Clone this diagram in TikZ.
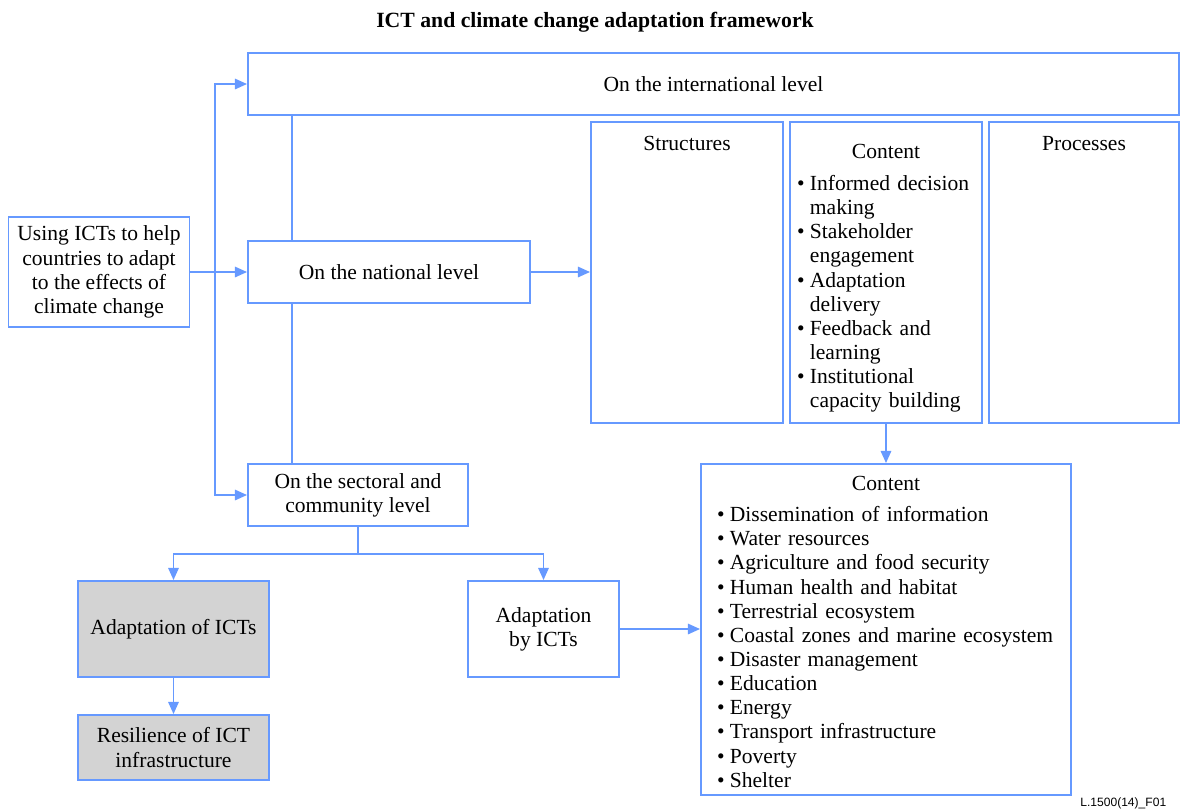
\documentclass[tikz,border=0pt]{standalone}
\usepackage{fontspec}
\setmainfont{Liberation Serif}
\setsansfont{Liberation Sans}
\usetikzlibrary{arrows.meta}
\definecolor{lineblue}{RGB}{102,153,255}
\definecolor{boxgrey}{RGB}{211,211,211}
\newcommand{\pxu}{0.58pt}
\newcommand{\bul}[1]{\par\hangindent=0.6em\hangafter=1\noindent\makebox[0.6em][l]{\textbullet}#1}
\begin{document}
\begin{tikzpicture}[
    x=0.58pt, y=-0.58pt,
    box/.style 2 args={draw=lineblue, line width=1.1pt, inner sep=0pt, align=center,
        font=\fontsize{12.5}{14}\selectfont, minimum width=#1*\pxu, minimum height=#2*\pxu},
    greybox/.style 2 args={box={#1}{#2}, fill=boxgrey},
    listbox/.style n args={3}{box={#1}{#2}, text width=#3*\pxu, align=left},
    head/.style={font=\fontsize{12.5}{14}\selectfont, inner sep=0pt},
    ln/.style={draw=lineblue, line width=1.1pt},
    arr/.style={ln, -{Triangle[length=7pt,width=6pt]}}
]
    \useasboundingbox (0,0) rectangle (1180,810);
    \node[font=\fontsize{12.6}{14}\selectfont\bfseries] (title) at (595,22) {ICT and climate change adaptation framework};

    \node[box={931}{62}] (intl) at (713.5,84) {On the international level};
    \node[box={282}{62}] (natl) at (389,272) {On the national level};
    \node[box={220}{62}] (sect) at (358,495) {On the sectoral and\\community level};
    \node[box={181}{110}] (using) at (99,272) {Using ICTs to help\\countries to adapt\\to the effects of\\climate change};

    \node[box={192}{301}] (struct) at (687,272.5) {};
    \node[head] (structT) at ([yshift=-22*\pxu]struct.north) {Structures};
    \node[listbox={192}{301}{178}] (cont) at (886,272.5) {%
        {\centering\noindent\rule{0pt}{15pt}Content\par}\vspace{4.6pt}\raggedright
        \bul{Informed decision\newline making}
        \bul{Stakeholder\newline engagement}
        \bul{Adaptation\newline delivery}
        \bul{Feedback and\newline learning}
        \bul{Institutional\newline capacity building}\par};
    \node[box={190}{301}] (proc) at (1084,272.5) {};
    \node[head] (procT) at ([yshift=-22*\pxu]proc.north) {Processes};

    \node[listbox={370}{331}{338}] (cont2) at (886,629.5) {%
        {\centering\noindent\rule{0pt}{11pt}Content\par}\vspace{4pt}\raggedright
        \bul{Dissemination of information}
        \bul{Water resources}
        \bul{Agriculture and food security}
        \bul{Human health and habitat}
        \bul{Terrestrial ecosystem}
        \bul{Coastal zones and marine ecosystem}
        \bul{Disaster management}
        \bul{Education}
        \bul{Energy}
        \bul{Transport infrastructure}
        \bul{Poverty}
        \bul{Shelter}\par};

    \node[greybox={191}{96}] (adof) at (173.5,629) {Adaptation of ICTs};
    \node[greybox={191}{65}] (resil) at (173.5,747.5) {Resilience of ICT\\infrastructure};
    \node[box={151}{96}] (adby) at (543.5,629) {Adaptation\\by ICTs};

    \node[anchor=west, inner sep=0pt, font=\sffamily\fontsize{7}{8}\selectfont] (figref) at (1080,803) {L.1500(14)\_F01};

    \coordinate (trunk) at (215,272);
    \draw[arr] (using.east) -- (natl.west);
    \draw[arr] (trunk) |- (intl.west);
    \draw[arr] (trunk) |- (sect.west);
    \draw[ln] ([xshift=45*\pxu]natl.north west) -- ([xshift=45*\pxu]natl.north west |- intl.south);
    \draw[ln] ([xshift=45*\pxu]natl.south west) -- ([xshift=45*\pxu]natl.south west |- sect.north);
    \draw[arr] (natl.east) -- (natl.east -| struct.west);
    \draw[arr] (cont.south) -- (cont2.north);
    \draw[ln] (sect.south) -- ++(0,27) coordinate (split);
    \draw[arr] (split) -| (adof.north);
    \draw[arr] (split) -| (adby.north);
    \draw[arr] (adof.south) -- (resil.north);
    \draw[arr] (adby.east) -- (adby.east -| cont2.west);
\end{tikzpicture}
\end{document}
